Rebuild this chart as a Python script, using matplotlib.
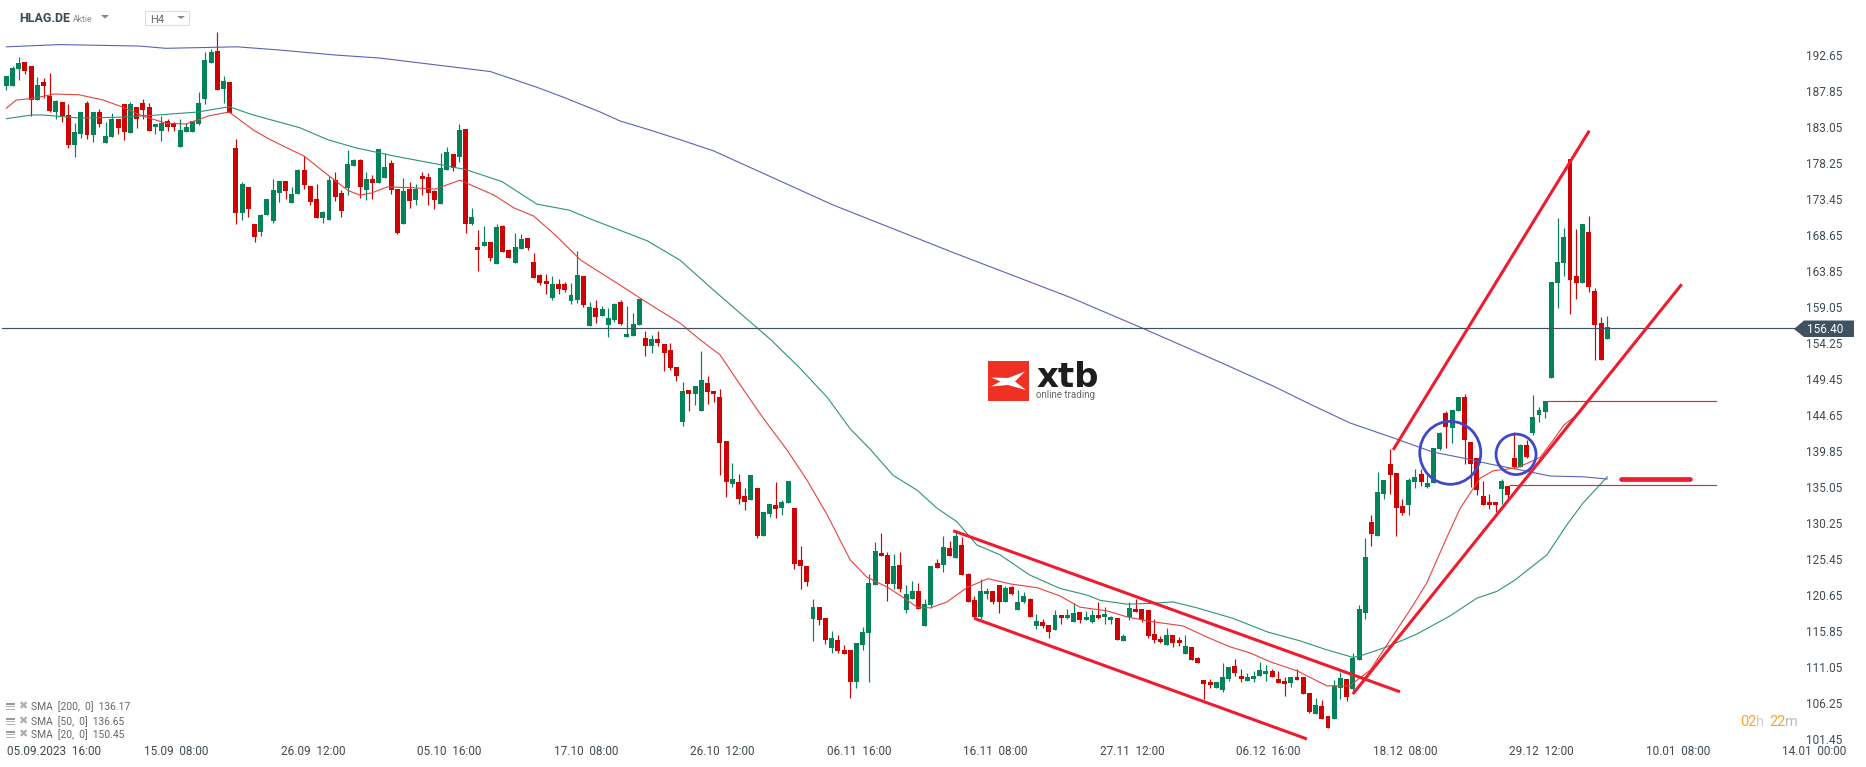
import matplotlib
matplotlib.use("Agg")
import matplotlib.pyplot as plt
from matplotlib.patches import Ellipse, Polygon, Rectangle
from matplotlib.transforms import ScaledTranslation
import numpy as np

opens = [188.8,188.8,191.0,192.0,191.5,186.9,189.3,187.5,185.3,186.7,
184.9,180.9,182.4,186.5,182.2,185.3,181.2,182.0,184.3,186.4,
182.5,185.9,186.5,185.9,183.3,182.8,184.1,183.8,180.6,182.6,
182.6,183.7,187.1,191.9,193.5,188.4,189.3,180.5,171.8,175.3,
170.3,169.3,171.6,170.8,174.5,176.1,173.2,174.4,177.6,175.4,
173.7,171.2,170.9,176.2,174.5,175.2,178.1,178.9,174.9,176.4,
175.8,176.5,178.5,175.0,170.3,175.0,173.5,176.8,176.6,174.8,
173.0,177.6,179.7,179.3,183.0,170.3,167.3,167.4,167.9,165.0,
170.1,166.9,165.1,167.0,168.5,165.3,163.5,162.7,160.5,162.3,
162.3,160.1,160.2,163.4,156.7,159.1,158.1,156.9,157.5,159.9,
155.3,155.4,156.9,155.1,154.1,155.0,154.3,153.5,151.3,143.9,
148.2,147.7,145.4,149.1,148.1,147.2,141.4,135.6,135.9,134.0,
133.5,135.1,128.7,131.6,132.8,132.4,133.1,132.4,125.5,124.7,
117.6,119.2,117.7,113.7,114.8,113.5,113.5,109.2,114.1,115.8,
122.2,126.4,126.2,122.3,124.8,118.8,120.3,121.4,116.7,119.5,
125.1,124.8,127.1,125.8,127.5,123.6,120.1,117.9,121.0,121.4,
122.2,119.9,121.9,118.8,119.9,120.3,116.7,117.2,116.8,116.1,
118.2,117.8,117.2,118.5,117.5,117.2,118.2,117.9,117.5,117.8,
114.7,117.9,119.0,119.0,118.8,115.6,115.0,114.1,115.5,114.8,
113.0,113.9,112.4,109.5,109.2,108.4,108.1,109.6,111.3,110.0,
109.3,109.6,110.0,110.3,110.7,109.6,109.3,109.1,109.9,109.9,
107.7,104.9,106.0,104.7,104.3,108.4,109.6,108.3,112.1,118.4,
130.6,128.7,134.3,138.3,137.1,132.7,132.8,135.9,137.0,135.2,
135.8,140.3,145.1,143.1,145.4,147.25,141.2,139.1,134.0,133.2,
133.2,135.0,135.4,139.1,137.9,140.8,142.4,144.85,145.25,149.8,
162.5,165.1,179.0,163.4,162.5,169.3,161.4,157.1,155.0]

closes = [190.1,191.2,191.9,190.8,186.9,188.9,188.8,185.4,186.8,184.7,
180.9,182.6,185.3,182.2,185.3,183.7,182.1,184.3,183.2,182.6,
186.3,184.4,185.6,182.8,183.7,183.8,183.3,183.3,182.9,183.3,
184.1,186.5,192.3,193.3,188.3,189.5,185.1,171.8,175.7,172.4,
168.6,171.6,173.7,174.9,176.1,174.8,174.4,177.6,175.5,173.3,
171.2,171.9,176.2,173.9,172.1,178.4,178.9,175.3,176.4,175.8,
180.4,177.9,174.9,169.2,174.8,173.4,175.0,176.4,174.5,173.5,
177.8,179.9,177.8,182.9,170.3,171.3,166.9,167.9,165.8,169.9,
166.6,165.8,167.3,168.3,167.2,163.1,162.5,162.3,162.3,161.7,
161.5,160.9,163.5,159.5,159.3,157.9,159.0,157.8,159.7,157.0,
155.7,157.0,160.3,154.1,155.0,154.5,153.1,151.1,150.0,148.1,
147.7,148.7,149.5,147.9,147.7,141.1,135.9,136.3,133.6,133.2,
136.8,128.7,131.9,133.0,132.3,133.2,136.0,125.0,124.7,122.6,
119.2,117.5,114.8,115.1,113.3,113.0,109.2,114.4,115.9,122.4,
126.7,126.0,122.3,124.7,121.6,121.0,121.4,119.0,119.6,124.7,
124.4,127.2,126.0,128.7,123.5,119.9,117.9,121.4,121.4,119.9,
119.9,121.8,121.0,119.9,120.7,117.9,117.3,116.7,115.9,118.2,
117.8,118.2,118.4,117.5,117.9,118.2,117.8,118.3,117.9,114.8,
115.3,119.1,118.5,117.5,115.3,114.8,114.6,115.5,114.4,114.4,
114.0,112.1,111.7,108.9,108.8,109.2,109.9,111.2,110.4,109.6,
109.9,110.0,110.8,110.7,109.9,109.1,108.9,109.9,109.5,107.6,
105.2,106.1,104.3,103.1,108.7,109.7,107.2,112.4,118.9,125.9,
129.0,134.6,136.2,136.8,132.4,131.8,136.2,136.6,135.9,135.8,
140.4,142.4,143.2,145.5,147.25,141.5,138.3,134.8,132.8,132.8,
132.8,136.0,134.2,137.9,140.8,139.2,144.6,145.5,146.7,162.6,
165.3,168.6,162.9,162.5,170.3,161.9,156.9,152.2,156.6]

highs = [190.1,191.4,192.6,192.0,191.5,190.0,189.9,190.5,186.9,186.7,
186.4,183.8,185.3,186.8,185.3,185.7,184.0,185.2,184.3,186.4,
186.7,185.9,187.1,186.5,183.7,184.8,184.3,184.0,184.3,183.8,
184.1,188.0,193.3,193.7,196.0,190.1,189.3,181.7,175.9,175.3,
170.3,171.7,173.7,176.4,176.1,176.1,175.3,177.7,179.4,175.4,
175.7,172.1,176.7,177.3,174.9,180.2,179.0,179.0,177.3,176.9,
180.4,179.8,178.9,175.0,176.5,175.9,175.7,177.3,177.2,174.9,
179.8,180.6,179.7,183.7,183.0,172.5,169.5,170.1,167.9,170.3,
170.2,167.0,169.2,169.0,168.5,166.5,163.7,163.7,163.4,163.0,
162.6,162.5,166.8,163.4,159.9,160.2,159.4,159.1,159.8,160.2,
159.4,158.5,160.3,156.1,155.5,156.1,154.3,154.5,151.3,149.3,
148.2,148.7,153.4,150.1,148.1,148.3,141.4,138.4,137.0,135.1,
136.8,135.1,131.9,133.0,135.9,133.5,136.0,132.4,127.4,124.7,
120.3,119.2,117.7,116.0,115.5,114.1,113.5,114.4,116.5,123.6,
127.9,129.1,126.6,126.3,126.6,122.2,122.7,122.4,120.3,124.7,
125.6,128.7,128.0,129.4,128.6,123.8,120.7,123.0,121.8,121.4,
122.2,122.0,122.0,121.5,121.2,120.4,118.3,117.6,116.8,118.8,
118.2,119.0,119.8,118.5,118.7,118.8,119.9,119.2,118.0,117.8,
115.6,119.9,120.3,119.0,118.8,117.6,115.3,116.4,115.5,115.2,
115.5,113.9,112.5,109.5,109.6,109.2,111.7,111.2,112.3,110.9,
110.4,110.7,111.9,111.5,110.9,110.7,109.9,109.9,110.9,109.9,
107.7,107.1,106.8,104.7,109.5,110.5,109.6,113.1,119.5,128.4,
131.5,137.2,136.2,140.3,137.1,133.6,136.4,137.6,137.6,136.8,
140.4,142.6,145.4,145.5,147.25,147.65,141.2,139.1,136.0,134.3,
133.2,136.3,135.4,142.6,141.0,141.5,147.5,145.9,146.7,162.6,
171.2,169.8,179.0,169.7,170.3,171.4,161.8,157.9,158.1]

lows = [188.2,188.8,189.6,190.4,184.8,186.9,187.2,185.3,184.4,184.0,
180.5,179.3,181.8,181.7,181.3,183.3,181.2,182.0,182.4,181.6,
182.5,183.2,184.4,182.8,182.4,181.4,182.8,182.8,180.6,182.6,
182.6,183.6,186.4,191.9,188.3,186.5,185.1,170.3,170.9,171.3,
167.9,168.8,171.6,170.5,173.3,173.7,173.2,174.4,175.0,172.9,
171.2,170.5,170.9,173.4,171.3,174.2,178.1,173.8,173.5,173.7,
175.8,176.5,174.4,169.0,170.3,172.5,172.9,174.2,172.9,172.3,
173.0,177.6,177.4,178.6,169.2,170.2,164.1,167.4,165.4,165.0,
166.6,165.8,165.1,167.0,166.9,163.1,162.2,161.0,160.2,161.0,
161.3,159.7,159.8,159.3,156.7,157.1,158.1,155.3,157.3,156.9,
155.3,155.4,156.9,152.7,153.1,154.1,150.7,150.9,149.4,143.4,
145.4,146.2,145.4,146.3,146.6,136.8,133.9,135.2,133.0,132.2,
133.5,128.4,128.7,131.2,131.1,131.5,133.1,124.3,121.6,122.0,
114.7,116.8,114.3,113.1,113.1,113.0,107.1,108.4,113.5,109.2,
122.2,126.0,120.0,121.6,121.2,118.4,120.3,119.0,116.7,119.1,
124.4,123.9,126.0,125.8,123.5,119.9,117.7,117.6,120.3,119.6,
118.4,119.9,120.8,118.8,119.75,117.9,116.3,116.4,115.1,116.1,
117.0,117.6,117.2,117.1,117.5,117.1,117.6,117.0,117.0,114.8,
114.7,117.5,118.5,117.2,115.1,114.4,114.4,114.1,113.9,114.0,
113.0,112.1,111.7,106.9,108.4,108.4,107.9,109.3,110.0,109.2,
109.3,109.2,110.0,109.3,109.9,109.1,107.3,108.5,109.5,107.6,
105.1,104.9,104.3,103.1,104.3,106.9,106.7,108.0,112.1,117.6,
127.4,128.7,133.6,134.3,128.7,131.5,131.5,135.1,135.4,135.1,
135.8,140.2,140.4,141.1,145.4,138.3,135.2,134.2,132.8,132.3,
131.9,133.0,133.5,137.8,137.9,139.1,142.2,143.9,144.45,149.8,
159.1,163.4,158.3,160.3,162.5,161.3,152.2,152.2,155.0]

sma200_idx = [0,8.7,21.5,25.7,37.2,43.6,53.1,60.2,69.1,78,85.5,90,95.7,98.9,103.7,108.6,114,133.2,152.4,171.6,183.2,191.2,195.6,204.2,210.1,216.5,223.5,229.9,234.8,239.1,243.5,248.8,254.1,258]
sma200 = [194.0,194.3,194.1,193.8,194.0,193.6,192.9,192.5,191.6,190.7,188.6,187.2,185.3,184.1,182.9,181.6,180.1,172.9,166.6,160.5,156.4,153.5,151.9,148.7,146.3,143.8,141.8,139.9,139.1,138.3,137.6,136.7,136.6,136.3]

sma50_idx = [0,4.1,5.9,11.7,18.2,24.4,30.9,35.9,39.8,47.3,51.8,56.4,62.6,69.1,74.1,79.9,85.5,90.7,94.5,98.9,103.3,108.6,114,117.9,123.2,127.9,132.3,136,139.2,142.9,146.8,150,153.2,156.4,160.1,164.9,169.8,174.2,176.3,180.6,184.3,188,191.9,197.7,203.2,208.5,212.8,217,218.6,222.5,227.3,232.6,237,240.2,243.1,248.3,251.5,254.1,258]
sma50 = [184.4,184.9,184.9,184.5,184.6,184.9,185.3,186.0,184.9,183.2,181.6,180.5,179.4,178.4,177.6,176.0,173.0,172.2,170.9,169.5,168.1,165.5,161.5,158.7,154.9,151.1,147.2,143.0,140.3,136.8,134.8,132.4,130.6,127.5,126.2,123.5,121.7,120.8,120.1,119.6,119.7,119.9,119.1,117.7,115.9,114.7,113.5,112.5,112.8,113.9,115.6,118.0,120.4,121.3,122.8,126.2,130.2,133.1,136.6]

sma20_idx = [0,1.6,4.1,7.8,11.7,15.6,18.6,21.9,25.7,29,32.7,35.9,39.8,42.3,48,51.8,55.1,57,58.9,61.4,65.2,69.1,73.1,78.6,81.8,85,88.7,92.6,98.9,102.6,108.6,111.8,115,119.4,122,125.8,129,132.3,136,138.7,141.9,144,146.8,148.9,151.6,154.8,158.2,161.8,166.1,169.8,173,177.4,180.6,184.3,189.6,193.5,197.2,200.4,203.7,208,212.8,216.5,219.8,223,226.2,228.9,232.2,234.3,237.5,239.6,243.5,247.2,249.3,251,253.6,256.4,258]
sma20 = [185.8,186.9,187.1,187.7,187.6,186.9,186.0,184.8,183.8,183.7,184.8,185.3,182.9,181.7,179.4,176.9,174.8,174.2,174.5,175.3,175.2,175.0,176.2,174.2,172.5,171.4,168.7,165.5,162.2,160.2,157.1,154.9,152.9,147.5,144.4,140.2,136.2,131.5,125.5,123.2,121.9,120.8,119.2,119.1,119.9,121.8,123.0,122.3,121.8,120.7,119.2,118.7,117.9,117.3,116.7,115.2,113.9,113.1,111.9,110.7,108.7,108.7,110.8,114.8,118.8,122.4,128.6,132.4,136.4,137.4,137.8,139.2,141.5,143.5,145.2,148.2,150.05]

price_ticks = [192.65,187.85,183.05,178.25,173.45,168.65,163.85,159.05,154.25,149.45,144.65,139.85,135.05,130.25,125.45,120.65,115.85,111.05,106.25,101.45]
date_ticks = [0.1,27.4,49.4,71.4,93.4,115.4,137.4,159.4,181.4,203.4,225.4,247.4,269.4,291.4]
date_labels = ["05.09.2023  16:00","15.09  08:00","26.09  12:00","05.10  16:00","17.10  08:00","26.10  12:00","06.11  16:00","16.11  08:00","27.11  12:00","06.12  16:00","18.12  08:00","29.12  12:00","10.01  08:00","14.01  00:00"]
last_price = 156.40
legend_rows = ["SMA  [200,  0]  136.17","SMA  [50,  0]  136.65","SMA  [20,  0]  150.45"]

W, H = 1866, 767
plt.rcParams['font.family'] = ['Roboto', 'DejaVu Sans']
fig = plt.figure(figsize=(W/100, H/100), dpi=100, facecolor='white')
ax = fig.add_axes([0, 0, 1, 1])
ax.set_xlim(-1.02, 299.7)
ax.set_ylim(97.86, 200.25)
for s in ax.spines.values():
    s.set_visible(False)

def P(x, y):
    return (x / W, 1 - y / H)

GREEN = '#04825a'
RED = '#cc0404'
TXT = '#3f4a52'
LINE = '#ee1c2e'

x = np.arange(len(closes))
o = np.array(opens); c = np.array(closes); hi = np.array(highs); lo = np.array(lows)
cols = [GREEN if cc >= oo else RED for oo, cc in zip(o, c)]
ax.vlines(x, lo, hi, colors=cols, linewidth=0.85, zorder=2)
ax.bar(x, np.abs(c - o), bottom=np.minimum(o, c), width=0.8, color=cols, linewidth=0, zorder=3)

ax.plot(sma200_idx, sma200, color='#5a62b8', lw=0.8, zorder=4)
ax.plot(sma50_idx, sma50, color='#2b9572', lw=0.8, zorder=4)
ax.plot(sma20_idx, sma20, color='#e6413f', lw=0.8, zorder=4)

ax.plot([-0.7, 288.2], [last_price, last_price], color='#40525f', lw=0.85, zorder=4)

for xs, ys in [([152.6, 224.6], [129.4, 107.9]),
               ([156.0, 209.6], [117.7, 101.6]),
               ([223.5, 255.1], [140.2, 182.8]),
               ([217.0, 270.0], [107.6, 162.3])]:
    ax.plot(xs, ys, color=LINE, lw=2.2, solid_capstyle='butt', zorder=5)
ax.plot([248.0, 275.6], [146.7, 146.7], color='#e8242c', lw=0.85, zorder=5)
ax.plot([242.3, 275.6], [135.5, 135.5], color='#e8242c', lw=0.85, zorder=5)
ax.plot([260.2, 271.4], [136.3, 136.3], color=LINE, lw=3.4, solid_capstyle='round', zorder=5)

ax.add_patch(Ellipse((232.7, 139.8), 9.83, 8.4, fill=False, ec='#3f48cc', lw=2.0, zorder=6))
ax.add_patch(Ellipse((243.3, 139.6), 6.45, 5.4, fill=False, ec='#3f48cc', lw=2.0, zorder=6))

ax.set_yticks(price_ticks)
ax.set_yticklabels([f"{v:.2f}" for v in price_ticks])
ax.yaxis.tick_right()
ax.tick_params(axis='y', length=0, pad=-43.2, labelsize=8.5, labelcolor=TXT, labelright=True, labelleft=False)
shift = ScaledTranslation(0, 1.5/100, fig.dpi_scale_trans)
for lb in ax.get_yticklabels():
    lb.set_transform(lb.get_transform() + shift)
ax.set_xticks(date_ticks)
ax.set_xticklabels(date_labels)
ax.tick_params(axis='x', length=0, pad=-15.5, labelsize=8.5, labelcolor=TXT)
ax.get_xticklabels()[0].set_ha('left')

tf = fig.transFigure
def poly(pts, **kw):
    fig.add_artist(Polygon([P(*p) for p in pts], closed=True, transform=tf, **kw))
def rect(x0, y0, x1, y1, **kw):
    fig.add_artist(Rectangle(P(x0, y1), (x1-x0)/W, (y1-y0)/H, transform=tf, **kw))
def txt(x0, y0, s, **kw):
    kw.setdefault('va', 'center')
    fig.text(x0/W, 1-y0/H, s, **kw)

poly([(1794,329),(1804,320.5),(1854,320.5),(1854,337),(1804,337)], fc='#40525f', ec='none')
txt(1806.7, 329.5, f"{last_price:.2f}", color='white', fontsize=8.5)

txt(19, 19, "HLAG.DE", color=TXT, fontsize=9, fontweight='bold')
txt(73, 19.5, "Aktie", color='#8a8a8a', fontsize=6.2)
poly([(101,15),(109,15),(105,18.6)], fc='#8a8a8a', ec='none')
fig.add_artist(Rectangle(P(145,25), 44/W, 14/H, transform=tf, fc='white', ec='#dddddd', lw=0.8))
txt(150, 20, "H4", color='#666666', fontsize=8)
poly([(177,16),(185,16),(181,19)], fc='#8a8a8a', ec='none')

rect(988, 361, 1028.7, 401.3, fc='#ef3124', ec='none')
poly([(991,377.5),(1008,378),(1025,371.5),(1015,381.5),(1026,390),(1008,385),(991,386.5),(1000.5,381.5)], fc='white', ec='none')
txt(1036, 387, "xtb", color='#1d1d1b', fontsize=24.5, fontweight='bold', family='DejaVu Sans', va='baseline')
txt(1036, 395, "online trading", color='#666666', fontsize=7.0)

for row_y, s in zip([707, 722, 735], legend_rows):
    rect(6, row_y-4.5, 15, row_y-2.5, fc='#9a9a9a', ec='none')
    rect(6, row_y-1, 15, row_y, fc='#b5b5b5', ec='none')
    rect(6, row_y+1.5, 15, row_y+2.5, fc='#b5b5b5', ec='none')
    txt(23, row_y-1, "\u2716", color='#b0b0b0', fontsize=8, ha='center', family='DejaVu Sans')
    txt(31, row_y, s, color='#666666', fontsize=7.4)

txt(1740, 722, "02", color='#f6a623', fontsize=10.5)
txt(1756, 722, "h", color='#cfcfcf', fontsize=10.5)
txt(1769, 722, "22", color='#f6a623', fontsize=10.5)
txt(1785, 722, "m", color='#bdbdbd', fontsize=10.5)

fig.savefig("out.png", dpi=100, facecolor='white')
